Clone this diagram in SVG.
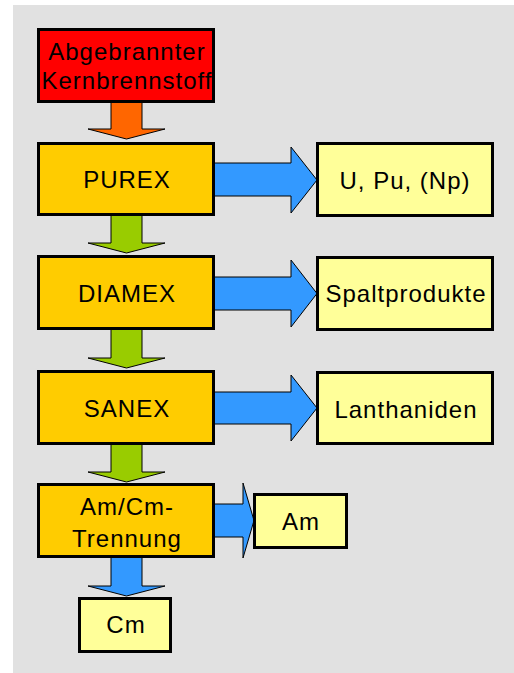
<svg xmlns="http://www.w3.org/2000/svg" width="514" height="673" viewBox="0 0 514 673">
<style>
.box{stroke:#000;stroke-width:3}
.proc{fill:#ffcc00}
.out{fill:#ffff99}
.arr{stroke:#000;stroke-width:1;stroke-linejoin:miter}
.green{fill:#99cc00}
.blue{fill:#3399ff}
.orange{fill:#ff6600}
text{font-family:"Liberation Sans",Arial,sans-serif;font-size:24px;letter-spacing:1px;text-anchor:middle;fill:#000}
</style>
<rect x="13" y="5" width="501" height="668" fill="#e1e1e1"/>
<g id="connectors">
<polygon class="arr orange" points="111,102 142,102 142,129 165,129 126.5,139 88,129 111,129"/>
<polygon class="arr green" points="111,215 142,215 142,243 165,243 126.5,253 88,243 111,243"/>
<polygon class="arr green" points="111,329 142,329 142,358 165,358 126.5,368 88,358 111,358"/>
<polygon class="arr green" points="111,444 142,444 142,472 165,472 126.5,482 88,472 111,472"/>
<polygon class="arr blue" points="111,557 142,557 142,586 165,586 126.5,596 88,586 111,586"/>
<polygon class="arr blue" points="214,163 291,163 291,147 317,180 291,213 291,196 214,196"/>
<polygon class="arr blue" points="214,277 291,277 291,260 317,293.5 291,327 291,310 214,310"/>
<polygon class="arr blue" points="214,392 291,392 291,375 317,408 291,441 291,424 214,424"/>
<polygon class="arr blue" points="214,504 243,504 243,483 254,520.5 243,558 243,537 214,537"/>
</g>
<g id="fuel">
<rect class="box" x="38.5" y="29.5" width="175" height="72" fill="#ff0000"/>
<text x="127" y="60">Abgebrannter</text>
<text x="127" y="89">Kernbrennstoff</text>
</g>
<g id="purex">
<rect class="box proc" x="38.5" y="143.5" width="175" height="71"/>
<text x="127" y="188">PUREX</text>
</g>
<g id="diamex">
<rect class="box proc" x="38.5" y="256.5" width="175" height="72"/>
<text x="127" y="302">DIAMEX</text>
</g>
<g id="sanex">
<rect class="box proc" x="38.5" y="371.5" width="175" height="72"/>
<text x="127" y="417">SANEX</text>
</g>
<g id="amcm">
<rect class="box proc" x="38.5" y="484.5" width="175" height="72"/>
<text x="127" y="515">Am/Cm-</text>
<text x="127" y="547">Trennung</text>
</g>
<g id="upu">
<rect class="box out" x="317.5" y="143.5" width="175" height="72"/>
<text x="405" y="189">U, Pu, (Np)</text>
</g>
<g id="spalt">
<rect class="box out" x="317.5" y="257.5" width="175" height="72"/>
<text x="406" y="302">Spaltprodukte</text>
</g>
<g id="lanth">
<rect class="box out" x="317.5" y="372.5" width="175" height="71"/>
<text x="406" y="418">Lanthaniden</text>
</g>
<g id="am">
<rect class="box out" x="254.5" y="494.5" width="92" height="53"/>
<text x="301" y="530">Am</text>
</g>
<g id="cm">
<rect class="box out" x="79.5" y="598.5" width="91" height="53"/>
<text x="126" y="633">Cm</text>
</g>
</svg>
